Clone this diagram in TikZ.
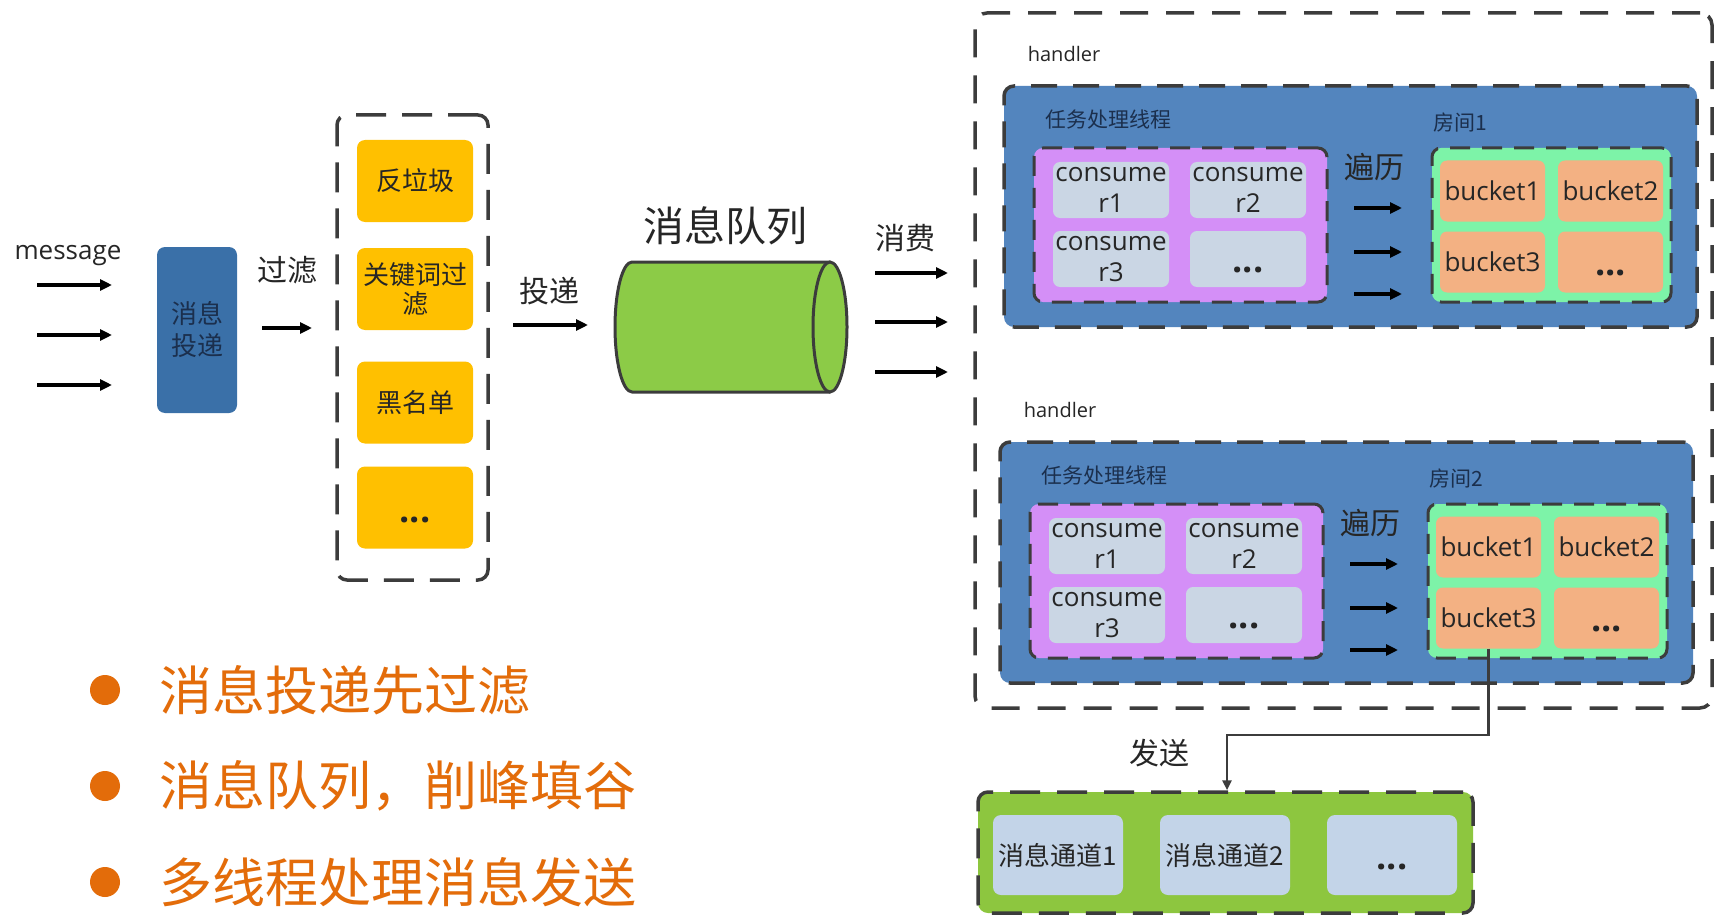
\documentclass[tikz,border=0pt]{standalone}
\usepackage{fontspec}
\setmainfont{Open Sans}
\newfontfamily\cjk{Noto Sans CJK SC}
\usetikzlibrary{arrows.meta}
\definecolor{dashc}{HTML}{3C3C3C}
\definecolor{leftblue}{HTML}{3A70A8}
\definecolor{hblue}{HTML}{5385BE}
\definecolor{purp}{HTML}{D48FF7}
\definecolor{mint}{HTML}{7DF3A8}
\definecolor{salmon}{HTML}{F3B183}
\definecolor{cellc}{HTML}{CAD6E4}
\definecolor{chanc}{HTML}{C3D4E8}
\definecolor{yel}{HTML}{FFC000}
\definecolor{grn}{HTML}{8DC63F}
\definecolor{cylg}{HTML}{8CCB47}
\definecolor{orng}{HTML}{E36C0A}
\definecolor{txtc}{HTML}{262626}
\definecolor{navy}{HTML}{1B2F4D}
\newcommand\fs[2]{\fontsize{#1}{#2}\selectfont}
\tikzset{
  bigbox/.style={draw=dashc, line width=3.5pt, dash pattern=on 28pt off 18pt, rounded corners=12pt},
  midbox/.style={draw=dashc, line width=3.5pt, dash pattern=on 26pt off 16pt, rounded corners=10pt},
  inbox/.style={draw=dashc, line width=3pt, dash pattern=on 20pt off 12pt, rounded corners=9pt},
  txt/.style={inner sep=0pt, text=txtc},
  cjktxt/.style={inner sep=0pt, text=txtc, align=center},
  cell/.style={fill=cellc, rounded corners=7pt, minimum width=116, minimum height=56, align=center, font=\fs{26}{31}, inner sep=0pt, text=txtc},
  bkt/.style={fill=salmon, rounded corners=7pt, minimum width=105, minimum height=61, align=center, font=\fs{26}{31}, inner sep=0pt, text=txtc},
  ybox/.style={fill=yel, rounded corners=8pt, minimum width=116, minimum height=82, align=center, font=\cjk\fs{26}{29}, inner sep=0pt, text=txtc},
  chan/.style={fill=chanc, rounded corners=8pt, minimum width=130, minimum height=80, align=center, font=\cjk\fs{26}{29}, inner sep=0pt, text=txtc},
  dots/.style={inner sep=0pt, font=\bfseries\fs{36}{38}, text=txtc},
  arr/.style={draw=black, line width=3.2pt, -{Triangle[length=12pt,width=11pt]}},
  arrs/.style={draw=black, line width=3.4pt, -{Triangle[length=12pt,width=11pt]}},
  conn/.style={draw=dashc, line width=2.5pt, -{Triangle[length=10pt,width=9pt]}},
  bul/.style={circle, fill=orng, minimum size=30, inner sep=0pt},
  bultxt/.style={anchor=west, inner sep=0pt, font=\cjk\fs{53}{60}, text=orng}
}
\newcommand\handlerblk[4]{%
\begin{scope}[shift={(#3,#4)}]
  \node[txt, font=\fs{20}{24}] (hand#1) at (1064,54) {handler};
  \node[midbox, fill=hblue, minimum width=693, minimum height=241] (blue#1) at (1350.5,206.5) {};
  \node[cjktxt, font=\cjk\fs{21}{24}, text=navy] (task#1) at (1108,120) {任务处理线程};
  \node[cjktxt, font=\cjk\fs{21}{24}, text=navy] (room#1) at (1460,123) {房间#2};
  \node[inbox, fill=purp, minimum width=293, minimum height=154] (pur#1) at (1180.5,225) {};
  \node[cell] (ca#1) at (1111,190) {consume\\r1};
  \node[cell] (cb#1) at (1248,190) {consume\\r2};
  \node[cell] (cc#1) at (1111,259) {consume\\r3};
  \node[cell] (cd#1) at (1248,259) {};
  \node[dots] (cdd#1) at ([yshift=-11pt]cd#1.center) {...};
  \node[cjktxt, font=\cjk\fs{30}{32}] (trav#1) at (1374,167) {遍历};
  \draw[arrs] (1354,208) coordinate (tas#1) -- (1402,208) coordinate (tae#1);
  \draw[arrs] (1354,252) coordinate (tbs#1) -- (1402,252) coordinate (tbe#1);
  \draw[arrs] (1354,294) coordinate (tcs#1) -- (1402,294) coordinate (tce#1);
  \node[inbox, fill=mint, minimum width=239, minimum height=154] (grn#1) at (1551.5,225) {};
  \node[bkt] (ba#1) at (1492.5,191) {bucket1};
  \node[bkt] (bb#1) at (1610.5,191) {bucket2};
  \node[bkt] (bc#1) at (1492.5,262) {bucket3};
  \node[bkt] (bd#1) at (1610.5,262) {};
  \node[dots] (bdd#1) at ([yshift=-11pt]bd#1.center) {...};
\end{scope}}
\begin{document}
\begin{tikzpicture}[x=1pt,y=-1pt]
\useasboundingbox (0,0) rectangle (1714,915);
\fill[white] (0,0) rectangle (1714,915);

% left: message
\node[txt, font=\fs{26}{28}] (msg) at (68,256) {message};
\draw[arr] (37,285) coordinate (m1s) -- (112,285) coordinate (m1e);
\draw[arr] (37,335) coordinate (m2s) -- (112,335) coordinate (m2e);
\draw[arr] (37,385) coordinate (m3s) -- (112,385) coordinate (m3e);
\node[fill=leftblue, rounded corners=8pt, minimum width=80, minimum height=166, inner sep=0pt, align=center, font=\cjk\fs{26}{32}, text=navy] (deliv) at (197,330) {消息\\投递};

\node[cjktxt, font=\cjk\fs{30}{32}] (filt) at (287,270) {过滤};
\draw[arr] (262,328) coordinate (fs) -- (312,328) coordinate (fe);

% filter group
\node[midbox, dash pattern=on 30pt off 16pt, minimum width=151, minimum height=465] (fbox) at (412.5,347.5) {};
\node[ybox] (y1) at (415,181) {反垃圾};
\node[ybox] (y2) at (415,289) {关键词过\\滤};
\node[ybox] (y3) at (415,402.5) {黑名单};
\node[ybox] (y4) at (415,507.5) {};
\node[dots] (y4d) at ([yshift=-12pt]y4.center) {...};

\node[cjktxt, font=\cjk\fs{30}{32}] (tou) at (549,291) {投递};
\draw[arr] (513,325) coordinate (ts) -- (588,325) coordinate (te);

% queue
\node[cjktxt, font=\cjk\fs{41}{44}] (mq) at (725,226) {消息队列};
\fill[cylg] (632,262) -- (830,262) -- (830,392) -- (632,392)
   arc[start angle=90, end angle=270, x radius=17, y radius=65] -- cycle;
\draw[dashc, line width=3pt, line join=round] (830,262) -- (632,262)
   arc[start angle=-90, end angle=-270, x radius=17, y radius=65] -- (830,392);
\draw[dashc, line width=3pt, fill=cylg] (830,327) ellipse [x radius=17, y radius=65];
\coordinate (cyl) at (731,327);

\node[cjktxt, font=\cjk\fs{30}{32}] (xf) at (905,238) {消费};
\draw[arr] (875,273) coordinate (x1s) -- (948,273) coordinate (x1e);
\draw[arr] (875,322) coordinate (x2s) -- (948,322) coordinate (x2e);
\draw[arr] (875,372) coordinate (x3s) -- (948,372) coordinate (x3e);

% handlers
\node[bigbox, minimum width=737, minimum height=695] (outer) at (1343.5,360.5) {};
\handlerblk{1}{1}{0}{0}
\handlerblk{2}{2}{-4}{356}

% send
\node[midbox, fill=grn, dash pattern=on 30pt off 17pt, minimum width=495, minimum height=121] (chanbox) at (1225.5,852.5) {};
\node[chan] (ch1) at (1058,855) {消息通道1};
\node[chan] (ch2) at (1225,855) {消息通道2};
\node[chan] (ch3) at (1392,855) {};
\node[dots] (ch3d) at ([yshift=-12pt]ch3.center) {...};
\node[cjktxt, font=\cjk\fs{30}{32}] (send) at (1159,753) {发送};
\coordinate (turn) at (1227,735);
\draw[conn] (bc2.south) |- (turn) -- (turn |- chanbox.north);

% bullets
\node[bul] (b1) at (105,690) {};
\node[bul] (b2) at (105,786) {};
\node[bul] (b3) at (105,882) {};
\node[bultxt] (t1) at (159,690) {消息投递先过滤};
\node[bultxt] (t2) at (159,786) {消息队列，削峰填谷};
\node[bultxt] (t3) at (159,882) {多线程处理消息发送};
\end{tikzpicture}
\end{document}
